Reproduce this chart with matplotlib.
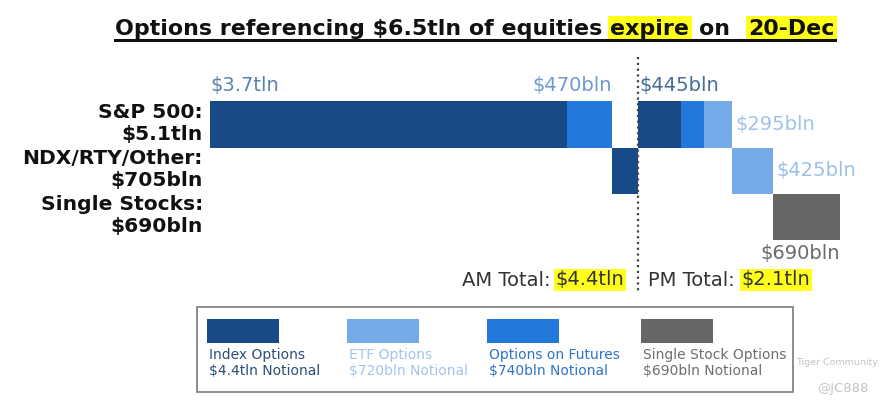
import matplotlib
matplotlib.use("Agg")
import matplotlib.pyplot as plt
from matplotlib.patches import Rectangle
from matplotlib.lines import Line2D
import numpy as np

# ---------------- data ----------------
rows = ["S&P 500", "NDX/RTY/Other", "Single Stocks"]
row_labels = ["S&P 500:\n$5.1tln", "NDX/RTY/Other:\n$705bln", "Single Stocks:\n$690bln"]

seg_rows = ["S&P 500", "S&P 500", "NDX/RTY/Other", "S&P 500", "S&P 500", "S&P 500", "NDX/RTY/Other", "Single Stocks"]
seg_types = ["Index", "Futures", "Index", "Index", "Futures", "ETF", "ETF", "Single"]
seg_values = [3.7, 0.47, 0.27, 0.445, 0.24, 0.295, 0.425, 0.69]  # $tln
seg_labels = ["$3.7tln", "$470bln", "", "$445bln", "", "$295bln", "$425bln", "$690bln"]
am_segments = 3  # first three segments expire AM

am_total_label = "$4.4tln"
pm_total_label = "$2.1tln"

legend_types = ["Index", "ETF", "Futures", "Single"]
legend_names = ["Index Options", "ETF Options", "Options on Futures", "Single Stock Options"]
legend_notional = ["$4.4tln Notional", "$720bln Notional", "$740bln Notional", "$690bln Notional"]

title_parts = ["Options referencing $6.5tln of equities", "expire", "on", "20-Dec"]
title_highlight = [False, True, False, True]

# ---------------- style ----------------
colors = {"Index": "#174a86", "Futures": "#2279d9", "ETF": "#74abe8", "Single": "#666666"}
legend_text_colors = {"Index": "#2c4e78", "ETF": "#a3c5ea", "Futures": "#2f74c5", "Single": "#6e6e6e"}
label_colors = ["#5b82ad", "#6d9ad0", None, "#456d96", None, "#9fc3e8", "#9cc1e8", "#6a6a6a"]
YELLOW = "#ffff1a"
NM = dict(parse_math=False)

W, H = 886, 411
fig = plt.figure(figsize=(W / 100, H / 100), dpi=100)
fig.patch.set_facecolor("white")
renderer = fig.canvas.get_renderer()

def fx(px):
    return px / W

def fy(py):
    return 1 - py / H

# main axes covering the whole figure; x in $tln, y in row units
x0_px, scale = 210, 96.4
row0_px, row_step = 124.5, 46.25
ax = fig.add_axes([0, 0, 1, 1])
ax.set_xlim(-x0_px / scale, (W - x0_px) / scale)
ax.set_ylim((H - row0_px) / row_step, -row0_px / row_step)
ax.axis("off")

def ypx(py):
    return (py - row0_px) / row_step

def xpx(px):
    return (px - x0_px) / scale

row_idx = {r: i for i, r in enumerate(rows)}
lefts = np.concatenate([[0], np.cumsum(seg_values)[:-1]])
for r, t, v, l in zip(seg_rows, seg_types, seg_values, lefts):
    ax.barh(row_idx[r], v, left=l, height=1.0, color=colors[t], linewidth=0)

# value labels
pad = 0.035
for i, (r, v, l, lab) in enumerate(zip(seg_rows, seg_values, lefts, seg_labels)):
    if not lab:
        continue
    y = row_idx[r]
    c = label_colors[i]
    if i == 0:
        ax.text(l, y - 0.85, lab, ha="left", va="center", fontsize=14, color=c, **NM)
    elif i == 1:
        ax.text(l + v, y - 0.85, lab, ha="right", va="center", fontsize=14, color=c, **NM)
    elif i == 3:
        ax.text(l + 0.01, y - 0.85, lab, ha="left", va="center", fontsize=14, color=c, **NM)
    elif seg_types[i] == "ETF":
        ax.text(l + v + pad, y, lab, ha="left", va="center", fontsize=14, color=c, **NM)
    else:
        ax.text(l + v, y + 0.78, lab, ha="right", va="center", fontsize=14, color=c, **NM)

# row labels
for i, lab in enumerate(row_labels):
    ax.text(xpx(203), i - 0.03, lab, ha="right", va="center", fontsize=14.6, fontweight="bold",
            color="#111111", multialignment="right", linespacing=1.2, **NM)

# AM / PM divider
split = float(np.sum(seg_values[:am_segments]))
ax.plot([split, split], [ypx(57), ypx(292)], linestyle=(0, (1, 1.6)), color="#444444", lw=1.6)

ty = ypx(280)
am_val = ax.text(split - 0.14, ty, am_total_label, ha="right", va="center", fontsize=14,
                 color="#333333", bbox=dict(boxstyle="square,pad=0.08", fc=YELLOW, ec="none"), **NM)
ax.annotate("AM Total:", xy=(0, 0.5), xycoords=am_val, xytext=(-4, 0), textcoords="offset points",
            ha="right", va="center", fontsize=14, color="#333333", annotation_clip=False, **NM)
pm_lab = ax.text(split + 0.105, ty, "PM Total:", ha="left", va="center", fontsize=14, color="#333333", **NM)
ax.annotate(pm_total_label, xy=(1, 0.5), xycoords=pm_lab, xytext=(5, 0), textcoords="offset points",
            ha="left", va="center", fontsize=14, color="#333333", annotation_clip=False,
            bbox=dict(boxstyle="square,pad=0.08", fc=YELLOW, ec="none"), **NM)

# title: parts laid out left to right on one baseline
gaps_px = [8, 10, 18]
tkw = dict(fontsize=15.9, fontweight="bold", color="#111111", va="baseline", ha="left", **NM)
x_cur = 115
title_texts = []
for k, (part, hl) in enumerate(zip(title_parts, title_highlight)):
    bb = dict(boxstyle="square,pad=0.12", fc=YELLOW, ec="none") if hl else None
    t = ax.text(xpx(x_cur), ypx(35), part, bbox=bb, **tkw)
    title_texts.append(t)
    ext = t.get_window_extent(renderer)
    if k < len(gaps_px):
        x_cur = ext.x1 + gaps_px[k]
ext0 = title_texts[0].get_window_extent(renderer)
ext1 = title_texts[-1].get_window_extent(renderer)
fig.lines.append(Line2D([ext0.x0 / W, ext1.x1 / W], [fy(40.5), fy(40.5)], transform=fig.transFigure,
                        color="#111111", lw=2.2))

# legend
fig.patches.append(Rectangle((fx(197), fy(392)), fx(793) - fx(197), fy(307) - fy(392),
                             transform=fig.transFigure, fill=False, ec="#7a7a7a", lw=1.2))
leg_x = [207, 347, 487, 641]
for lx, t, nm, nt in zip(leg_x, legend_types, legend_names, legend_notional):
    fig.patches.append(Rectangle((fx(lx), fy(343)), fx(lx + 72) - fx(lx), fy(319) - fy(343),
                                 transform=fig.transFigure, fc=colors[t], ec="none"))
    fig.text(fx(lx + 2), fy(348), nm + "\n" + nt, ha="left", va="top", fontsize=10,
             color=legend_text_colors[t], linespacing=1.2, **NM)

# watermark
fig.text(fx(796), fy(362), "Tiger Community", ha="left", va="center", fontsize=6.8, color="#c4c4c4", **NM)
fig.text(fx(868), fy(388), "@JC888", ha="right", va="center", fontsize=9.5, color="#c4c4c4", **NM)

fig.savefig("out.png", dpi=100, facecolor="white")
